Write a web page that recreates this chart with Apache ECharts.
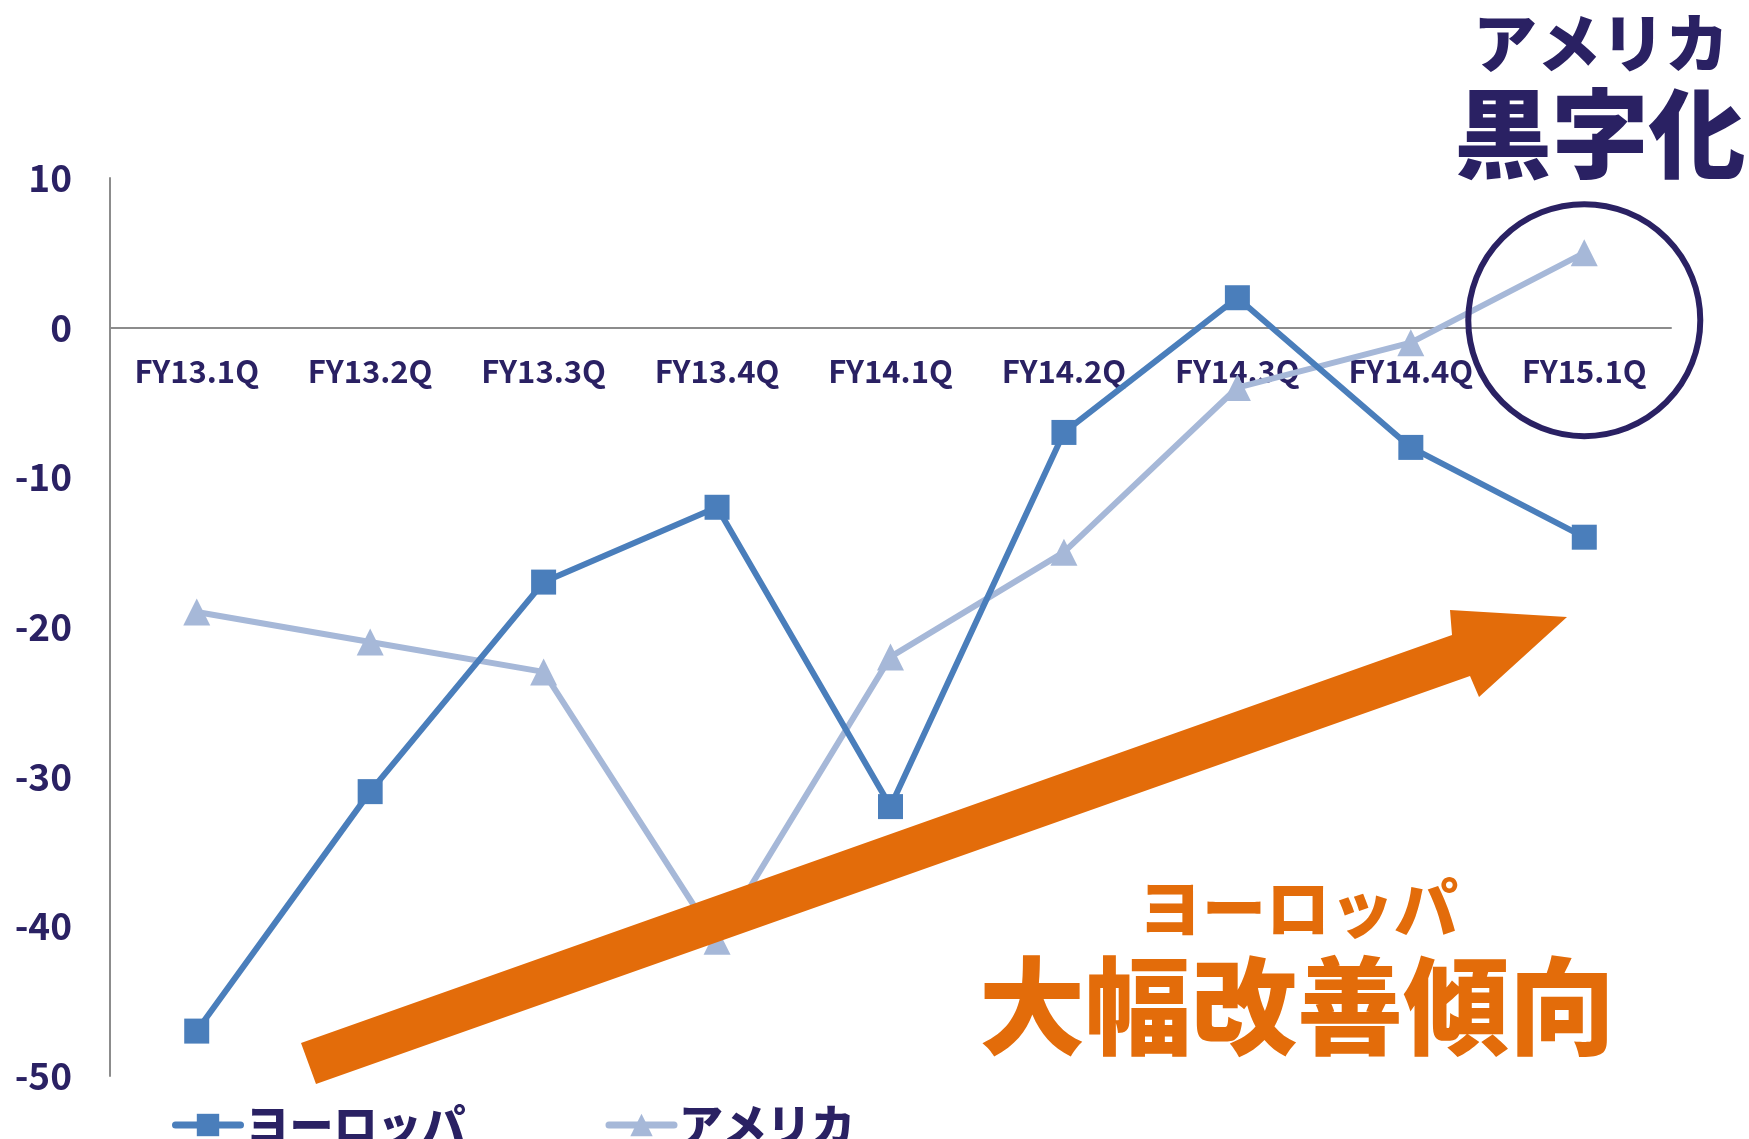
<!DOCTYPE html>
<html>
<head>
<meta charset="utf-8">
<script src="https://cdn.jsdelivr.net/npm/echarts@6/dist/echarts.min.js"></script>
<style>
  html, body { margin: 0; padding: 0; background: #fff; }
  #chart { width: 1749px; height: 1139px; }
</style>
</head>
<body>
<div id="chart"></div>
<script>
// 四半期
const categories = ['FY13.1Q', 'FY13.2Q', 'FY13.3Q', 'FY13.4Q', 'FY14.1Q', 'FY14.2Q', 'FY14.3Q', 'FY14.4Q', 'FY15.1Q']
// ヨーロッパ / アメリカ
const europe = [-47, -31, -17, -12, -32, -7, 2, -8, -14]
const america = [-19, -21, -23, -41, -22, -15, -4, -1, 5]
const yTicks = { min: -50, max: 10, interval: 10 }

const navy = '#2A2163'
const orange = '#E36C0A'
const jp = '"Noto Sans CJK JP", "Noto Sans", sans-serif'

const gridTop = 178
const gridBottom = 63
const plotH = 1139 - gridTop - gridBottom
// 0 の位置まで x 軸を下げる
const zeroOffset = plotH * (yTicks.max - 0) / (yTicks.max - yTicks.min)

const chart = echarts.init(document.getElementById('chart'))

let option = {
  backgroundColor: '#fff',
  animation: false,
  grid: {
    left: 110,
    right: 78,
    top: gridTop,
    bottom: gridBottom
  },
  legend: {
    left: 167,
    top: 1098,
    itemWidth: 65,
    itemHeight: 28,
    itemGap: 140,
    lineStyle: { width: 7, cap: 'round' },
    textStyle: {
      color: navy,
      fontSize: 44,
      fontWeight: 900,
      fontFamily: jp
    },
    data: ['ヨーロッパ', 'アメリカ']
  },
  xAxis: {
    type: 'category',
    data: categories,
    position: 'top',
    offset: -zeroOffset,
    axisLine: { onZero: false, lineStyle: { color: '#8c8c8c', width: 2 } },
    axisTick: { show: false },
    axisLabel: {
      inside: true,
      color: navy,
      fontSize: 31,
      fontWeight: 'bold',
      fontFamily: jp,
      margin: 28,
      interval: 0
    }
  },
  yAxis: {
    type: 'value',
    min: yTicks.min,
    max: yTicks.max,
    interval: yTicks.interval,
    axisLine: { show: true, lineStyle: { color: '#8c8c8c', width: 2 } },
    axisTick: { show: false },
    splitLine: { show: false },
    axisLabel: {
      color: navy,
      fontSize: 37,
      fontWeight: 'bold',
      fontFamily: jp,
      margin: 38
    }
  },
  series: [
    {
      name: 'ヨーロッパ',
      type: 'line',
      data: europe,
      symbol: 'rect',
      symbolSize: 25,
      color: '#4A7EBB',
      lineStyle: { width: 6, color: '#4A7EBB' },
      itemStyle: { color: '#4A7EBB' },
      z: 3
    },
    {
      name: 'アメリカ',
      type: 'line',
      data: america,
      symbol: 'triangle',
      symbolSize: 27,
      color: '#A6B8D8',
      lineStyle: { width: 6, color: '#A6B8D8' },
      itemStyle: { color: '#A6B8D8' },
      z: 2
    }
  ]
}
chart.setOption(option)

// 注釈（円・矢印・テキスト）
const c = chart.convertToPixel({ xAxisIndex: 0, yAxisIndex: 0 }, ['FY15.1Q', 0.5])
chart.setOption({
  graphic: [
    {
      type: 'circle',
      shape: { cx: c[0], cy: c[1], r: 116 },
      style: { fill: 'none', stroke: navy, lineWidth: 6 },
      z: 10
    },
    {
      type: 'polygon',
      shape: {
        points: [[301, 1043], [1452, 635], [1450, 610], [1567, 617], [1479, 697], [1470, 676], [316, 1084]]
      },
      style: { fill: orange },
      z: 10
    },
    {
      type: 'text',
      style: { text: 'アメリカ', x: 1601, y: 43, align: 'center', verticalAlign: 'middle', fill: navy, font: '900 64px ' + jp },
      z: 10
    },
    {
      type: 'text',
      style: { text: '黒字化', x: 1600, y: 133, align: 'center', verticalAlign: 'middle', fill: navy, font: '900 97px ' + jp },
      z: 10
    },
    {
      type: 'text',
      style: { text: 'ヨーロッパ', x: 1298, y: 908, align: 'center', verticalAlign: 'middle', fill: orange, font: '900 64px ' + jp },
      z: 10
    },
    {
      type: 'text',
      style: { text: '大幅改善傾向', x: 1297, y: 1006, align: 'center', verticalAlign: 'middle', fill: orange, font: '900 106px ' + jp },
      z: 10
    }
  ]
})
</script>
</body>
</html>
